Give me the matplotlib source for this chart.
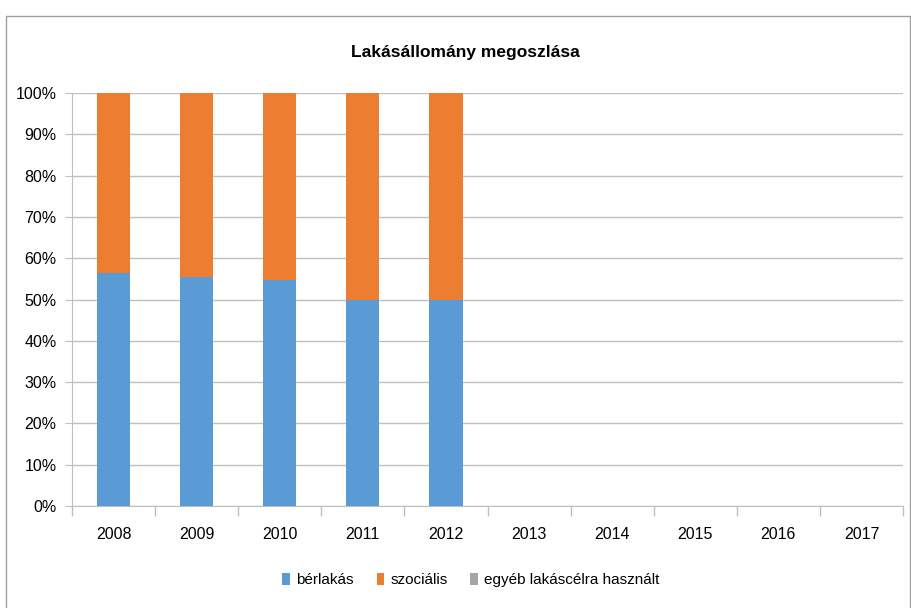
import matplotlib
matplotlib.use("Agg")
import matplotlib.pyplot as plt
import numpy as np
from matplotlib.patches import Rectangle
from matplotlib.ticker import FixedLocator, PercentFormatter

years = ["2008", "2009", "2010", "2011", "2012", "2013", "2014", "2015", "2016", "2017"]
berlakas = [56.3, 55.5, 54.7, 50.0, 50.0, 0, 0, 0, 0, 0]
szocialis = [43.7, 44.5, 45.3, 50.0, 50.0, 0, 0, 0, 0, 0]
egyeb = [0, 0, 0, 0, 0, 0, 0, 0, 0, 0]
series_names = ["bérlakás", "szociális", "egyéb lakáscélra használt"]
colors = ["#5B9BD5", "#ED7D31", "#A5A5A5"]

plt.rcParams['font.family'] = ['Liberation Sans Narrow', 'Liberation Sans', 'DejaVu Sans']

fig = plt.figure(figsize=(9.11, 6.08), dpi=100)
fig.patches.append(Rectangle((6/911, -0.01), (904/911), 1 - 16/608 + 0.01,
                             transform=fig.transFigure, fill=False,
                             edgecolor="#A0A0A0", linewidth=1))
ax = fig.add_axes([72/911, 1 - 506/608, (903 - 72)/911, (506 - 93)/608])

x = np.arange(len(years))
b = np.zeros(len(years))
for vals, name, c in zip([berlakas, szocialis, egyeb], series_names, colors):
    ax.bar(x, vals, width=0.4, bottom=b, color=c, label=name, zorder=3)
    b = b + np.array(vals)

ax.set_xlim(-0.5, len(years) - 0.5)
ax.set_ylim(0, 100)
ax.set_yticks(np.arange(0, 101, 10))
ax.yaxis.set_major_formatter(PercentFormatter(decimals=0))
ax.grid(axis='y', color="#C0C0C0", linewidth=1, zorder=0)
ax.set_xticks(x)
ax.set_xticklabels(years)
ax.xaxis.set_minor_locator(FixedLocator(np.arange(-0.5, len(years), 1)))
ax.tick_params(axis='x', which='major', length=0, pad=15, labelsize=11.5)
ax.tick_params(axis='x', which='minor', length=7, color="#BFBFBF", width=1)
ax.tick_params(axis='y', length=5, color="#BFBFBF", labelsize=11.5, pad=6)
for s in ['top', 'right']:
    ax.spines[s].set_visible(False)
ax.spines['left'].set_color("#BFBFBF")
ax.spines['bottom'].set_color("#BFBFBF")

fig.text(0.511, 1 - 52/608, "Lakásállomány megoszlása", ha='center', va='center',
         fontsize=12.5, fontweight='bold')

fig.legend(loc='center', bbox_to_anchor=(0.517, 1 - 580/608), ncol=3, frameon=False,
           fontsize=11, handlelength=0.5, handleheight=0.9, handletextpad=0.4,
           columnspacing=1.5)

fig.savefig("out.png", dpi=100)
